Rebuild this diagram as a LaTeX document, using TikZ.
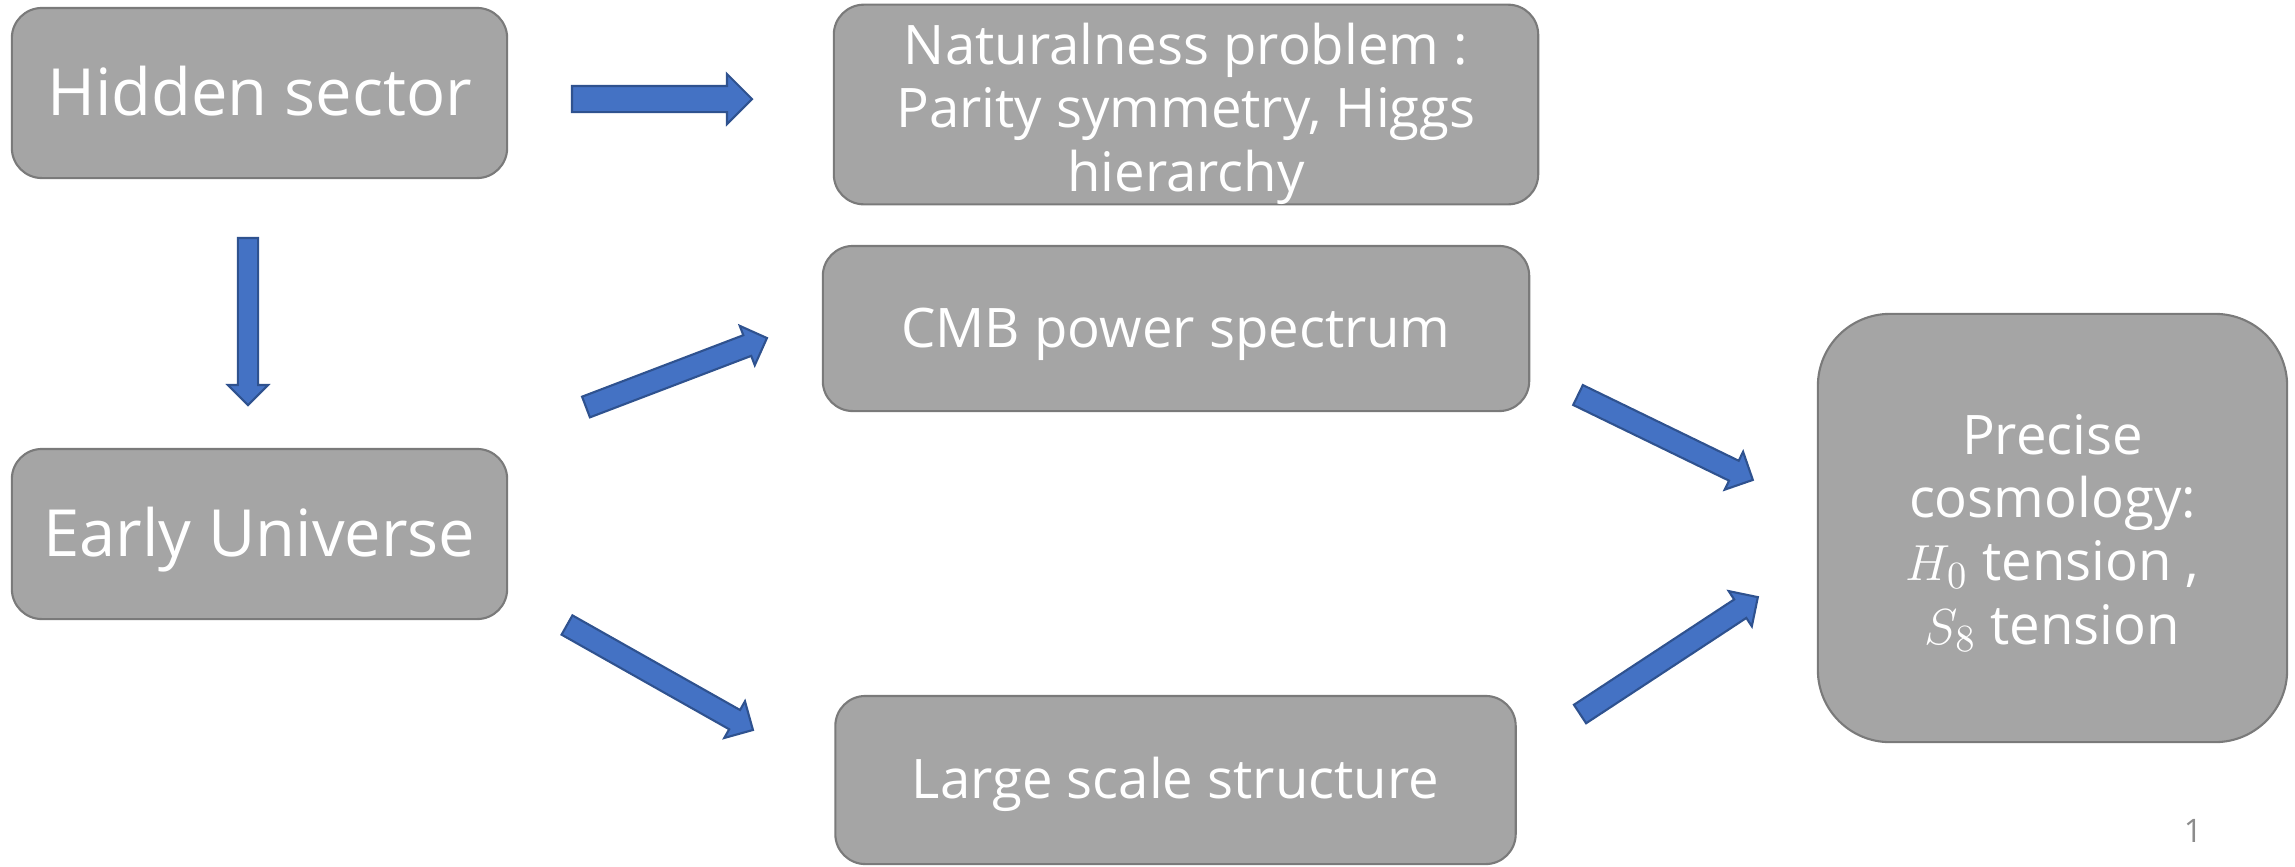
\documentclass[tikz,border=0pt]{standalone}
\usepackage{fontspec}
\setmainfont{Open Sans}
\usetikzlibrary{calc,shapes.arrows}

\definecolor{boxgray}{HTML}{A5A5A5}
\definecolor{boxline}{HTML}{7A7A7A}
\definecolor{arrowblue}{HTML}{4472C4}
\definecolor{arrowline}{HTML}{2F528F}
\definecolor{pagegray}{HTML}{8C8C8C}

% struts giving the line box of a slide text frame
\newcommand{\topstrut}[1][0.94em]{\rule{0pt}{#1}}
\newcommand{\botstrut}{\rule[-0.25em]{0pt}{0.25em}}

\tikzset{
  box/.style={draw=boxline, fill=boxgray, line width=0.6pt, rounded corners=0.3cm,
    inner sep=0pt, text=white, align=center},
  oneline/.style={execute at begin node=\topstrut, execute at end node=\botstrut},
  bigtext/.style={font=\fontsize{18.5}{22}\selectfont},
  midtext/.style={font=\fontsize{15.5}{18}\selectfont},
  barrow/.style={single arrow, draw=arrowline, fill=arrowblue, line width=0.6pt,
    inner xsep=0pt, inner ysep=0.1cm, single arrow head extend=0.1cm,
    minimum width=0pt, outer sep=0pt, anchor=tail},
}

\begin{document}
\begin{tikzpicture}[x=0.01cm, y=-0.01cm]
                \useasboundingbox (0,0) rectangle (2295,866);

                % Left column boxes
                \node [box, oneline, bigtext, minimum width=4.95cm, minimum height=1.70cm] (hidden) at (259.5,93) {Hidden sector};%
                \node [box, oneline, bigtext, minimum width=4.95cm, minimum height=1.70cm] (early) at (259.5,534) {Early Universe};%

                % Middle column boxes
                \node [box, midtext, minimum width=7.04cm, minimum height=1.95cm] (natural) at (1186,104.5) {\topstrut[1.1em]Naturalness problem :\\Parity symmetry, Higgs\\hierarchy};%
                \node [box, oneline, midtext, minimum width=7.06cm, minimum height=1.65cm] (cmb) at (1176,328.5) {CMB power spectrum};%
                \node [box, oneline, midtext, minimum width=6.80cm, minimum height=1.68cm] (lss) at (1175.5,780) {Large scale structure};%

                % Right box
                \node [box, midtext, rounded corners=0.72cm, minimum width=4.69cm, minimum height=4.28cm] (precise) at (2052.5,528) {\topstrut[0.92em]Precise\\cosmology:\\$H_0$ tension ,\\$S_8$ tension};%

                % Arrow end points
                \coordinate (hsA) at (572,99);   \coordinate (hsB) at (752,99);
                \coordinate (vtA) at (248,238);  \coordinate (vtB) at (248,405);
                \coordinate (ecA) at (586,407);  \coordinate (ecB) at (767,338);
                \coordinate (elA) at (567,625);  \coordinate (elB) at (753,730);
                \coordinate (cpA) at (1578,395); \coordinate (cpB) at (1753,480);
                \coordinate (lpA) at (1580,714); \coordinate (lpB) at (1758,597);

                % Drawing arrow hidden -> natural
                \path let \p1=($(hsB)-(hsA)$), \n1={atan2(\y1,\x1)}, \n2={veclen(\x1,\y1)} in
                  node [barrow, inner ysep=0.12cm, single arrow head extend=0.12cm, minimum height=\n2, rotate=\n1] (hsarrow) at (hsA) {};%

                % Drawing arrow hidden -> early
                \path let \p1=($(vtB)-(vtA)$), \n1={atan2(\y1,\x1)}, \n2={veclen(\x1,\y1)} in
                  node [barrow, inner ysep=0.09cm, minimum height=\n2, rotate=\n1] (vtarrow) at (vtA) {};%

                % Drawing arrow early -> cmb
                \path let \p1=($(ecB)-(ecA)$), \n1={atan2(\y1,\x1)}, \n2={veclen(\x1,\y1)} in
                  node [barrow, minimum height=\n2, rotate=\n1] (ecarrow) at (ecA) {};%

                % Drawing arrow early -> lss
                \path let \p1=($(elB)-(elA)$), \n1={atan2(\y1,\x1)}, \n2={veclen(\x1,\y1)} in
                  node [barrow, minimum height=\n2, rotate=\n1] (elarrow) at (elA) {};%

                % Drawing arrow cmb -> precise
                \path let \p1=($(cpB)-(cpA)$), \n1={atan2(\y1,\x1)}, \n2={veclen(\x1,\y1)} in
                  node [barrow, minimum height=\n2, rotate=\n1] (cparrow) at (cpA) {};%

                % Drawing arrow lss -> precise
                \path let \p1=($(lpB)-(lpA)$), \n1={atan2(\y1,\x1)}, \n2={veclen(\x1,\y1)} in
                  node [barrow, minimum height=\n2, rotate=\n1] (lparrow) at (lpA) {};%

                % Page number
                \node [text=pagegray, font=\fontsize{9.2}{11}\selectfont] (pagenum) at (2193,831) {1};%
\end{tikzpicture}
\end{document}
